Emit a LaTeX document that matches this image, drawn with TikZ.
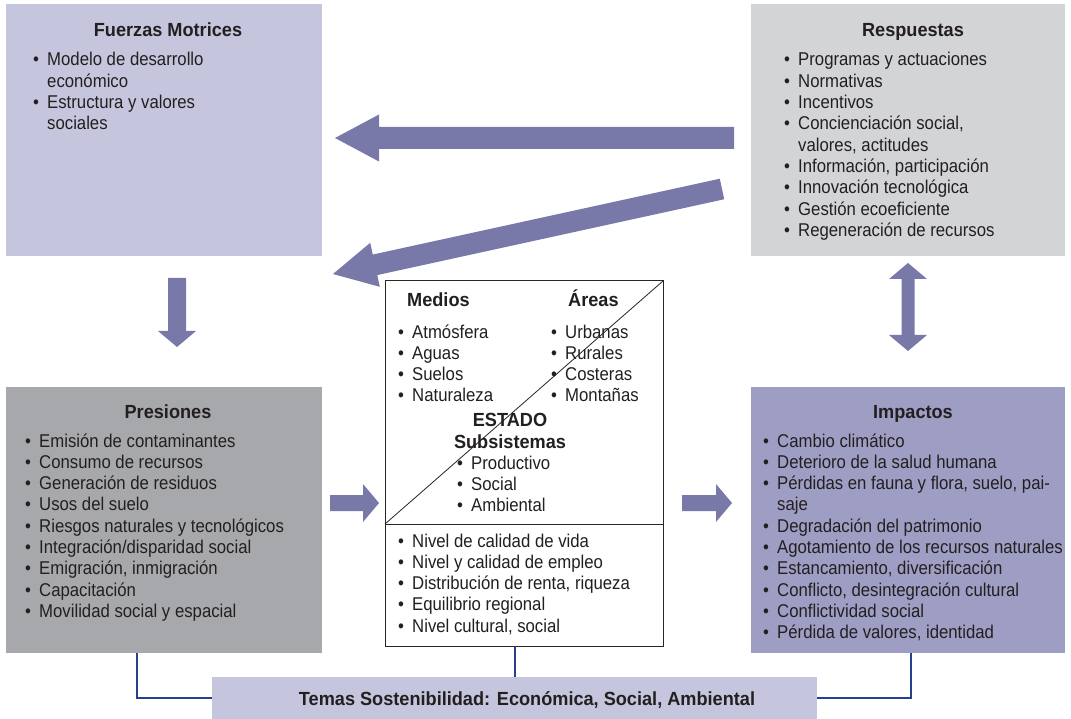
\documentclass[tikz,border=0pt]{standalone}
\usepackage{fontspec}
\setmainfont{Liberation Sans}[FakeStretch=0.905]
\newfontfamily\tfont{Liberation Sans}[FakeStretch=0.955]
\usetikzlibrary{calc}
\definecolor{fuerzac}{HTML}{C5C6DD}
\definecolor{respc}{HTML}{D3D4D6}
\definecolor{presc}{HTML}{A7A8AB}
\definecolor{impc}{HTML}{9E9EC4}
\definecolor{arrc}{HTML}{7979A9}
\definecolor{connc}{HTML}{25418C}
\definecolor{txtc}{HTML}{231F20}
\newcommand{\bul}{\makebox[14pt][l]{•}}
\newcommand{\nobul}{\makebox[14pt]{}}
% tail, tip, half shaft, half head, head length
\newcommand{\fatarrow}[5]{%
  \coordinate (fatH) at ($(#2)!#5!(#1)$);
  \fill[arrc] ($(#1)!#3!90:(#2)$) -- ($(fatH)!#3!90:(#2)$) -- ($(fatH)!#4!90:(#2)$) -- (#2)
    -- ($(fatH)!#4!-90:(#2)$) -- ($(fatH)!#3!-90:(#2)$) -- ($(#1)!#3!-90:(#2)$) -- cycle;}
\newcommand{\dblarrow}[5]{%
  \coordinate (dblA) at ($(#1)!#5!(#2)$);
  \coordinate (dblB) at ($(#2)!#5!(#1)$);
  \fill[arrc] (#1) -- ($(dblA)!#4!90:(#2)$) -- ($(dblA)!#3!90:(#2)$) -- ($(dblB)!#3!90:(#2)$)
    -- ($(dblB)!#4!90:(#2)$) -- (#2) -- ($(dblB)!#4!-90:(#2)$) -- ($(dblB)!#3!-90:(#2)$)
    -- ($(dblA)!#3!-90:(#2)$) -- ($(dblA)!#4!-90:(#2)$) -- cycle;}
\tikzset{
  box/.style={draw=none, inner sep=0pt, outer sep=0pt, anchor=north west},
  itm/.style={anchor=base west, inner sep=0pt, text=txtc, font=\fontsize{18.5}{21}\selectfont},
  ttl/.style={anchor=base, inner sep=0pt, text=txtc, font=\tfont\bfseries\fontsize{19}{21}\selectfont},
  conn/.style={draw=connc, line width=2pt},
}
\begin{document}
\begin{tikzpicture}[x=1pt,y=-1pt]
\useasboundingbox (0,0) rectangle (1071,719);
\fill[white] (0,0) rectangle (1071,719);
% boxes
\node[box, fill=fuerzac, minimum width=316pt, minimum height=252pt] (fm) at (6,4) {};
\node[box, fill=respc, minimum width=314pt, minimum height=252pt] (resp) at (751,4) {};
\node[box, fill=presc, minimum width=316pt, minimum height=266pt] (pres) at (6,387) {};
\node[box, fill=impc, minimum width=314pt, minimum height=266pt] (imp) at (751,387) {};
\node[box, fill=white, draw=black!85, line width=1pt, minimum width=278pt, minimum height=365pt] (estado) at (385,281) {};
\node[box, fill=fuerzac, minimum width=605pt, minimum height=42pt] (bar) at (212,677) {};
% center box lines
\coordinate (dvl) at (385,524);
\coordinate (dvr) at (663,524);
\draw[black!85, line width=1pt] (dvl) -- (dvr);
\draw[black!85, line width=0.8pt] (estado.north east) -- (dvl);
% titles
\node[ttl] (tfm) at (168,37) {Fuerzas Motrices};
\node[ttl] (tresp) at (913,37) {Respuestas};
\node[ttl] (tpres) at (168,418) {Presiones};
\node[ttl] (timp) at (913,418) {Impactos};
\node[ttl, anchor=base west] (tmed) at (407,307) {Medios};
\node[ttl, anchor=base west] (tare) at (568,307) {Áreas};
\node[ttl] (test) at (510,426) {ESTADO};
\node[ttl] (tsub) at (510,448) {Subsistemas};
\node[ttl] (tbar) at (527,705) {Temas Sostenibilidad: Económica, Social, Ambiental};
% items
\foreach \b/\t [count=\i] in {1/Modelo de desarrollo, 0/económico, 1/Estructura y valores, 0/sociales}
  \node[itm] (fm\i) at (33,{66+21.3*(\i-1)}) {\ifnum\b=1 \bul\else\nobul\fi\t};
\foreach \b/\t [count=\i] in {1/Programas y actuaciones, 1/Normativas, 1/Incentivos, 1/{Concienciación social,}, 0/{valores, actitudes}, 1/{Información, participación}, 1/Innovación tecnológica, 1/Gestión ecoeficiente, 1/Regeneración de recursos}
  \node[itm] (re\i) at (784,{66+21.3*(\i-1)}) {\ifnum\b=1 \bul\else\nobul\fi\t};
\foreach \b/\t [count=\i] in {1/Emisión de contaminantes, 1/Consumo de recursos, 1/Generación de residuos, 1/Usos del suelo, 1/Riesgos naturales y tecnológicos, 1/{Integración/disparidad social}, 1/{Emigración, inmigración}, 1/Capacitación, 1/Movilidad social y espacial}
  \node[itm] (pr\i) at (25,{447+21.3*(\i-1)}) {\ifnum\b=1 \bul\else\nobul\fi\t};
\foreach \b/\t [count=\i] in {1/Cambio climático, 1/Deterioro de la salud humana, 1/{Pérdidas en fauna y flora, suelo, pai-}, 0/saje, 1/Degradación del patrimonio, 1/Agotamiento de los recursos naturales, 1/{Estancamiento, diversificación}, 1/{Conflicto, desintegración cultural}, 1/Conflictividad social, 1/{Pérdida de valores, identidad}}
  \node[itm] (im\i) at (763,{447+21.3*(\i-1)}) {\ifnum\b=1 \bul\else\nobul\fi\t};
\foreach \t [count=\i] in {Atmósfera, Aguas, Suelos, Naturaleza}
  \node[itm] (me\i) at (398,{338+21.3*(\i-1)}) {\bul\t};
\foreach \t [count=\i] in {Urbanas, Rurales, Costeras, Montañas}
  \node[itm] (ar\i) at (551,{338+21.3*(\i-1)}) {\bul\t};
\foreach \t [count=\i] in {Productivo, Social, Ambiental}
  \node[itm] (su\i) at (457,{469+21.3*(\i-1)}) {\bul\t};
\foreach \t [count=\i] in {Nivel de calidad de vida, Nivel y calidad de empleo, {Distribución de renta, riqueza}, Equilibrio regional, {Nivel cultural, social}}
  \node[itm] (ni\i) at (398,{547+21.3*(\i-1)}) {\bul\t};
% big arrows
\coordinate (a1t) at (734,138); \coordinate (a1h) at (335,138);
\fatarrow{a1t}{a1h}{11pt}{23.5pt}{44pt}
\coordinate (a2t) at (722,189); \coordinate (a2h) at (333,274);
\fatarrow{a2t}{a2h}{10.5pt}{22.5pt}{43pt}
\coordinate (a3t) at (177,278); \coordinate (a3h) at (177,347);
\fatarrow{a3t}{a3h}{9pt}{19pt}{16pt}
\coordinate (a4t) at (330,503); \coordinate (a4h) at (379,503);
\fatarrow{a4t}{a4h}{8pt}{19pt}{16pt}
\coordinate (a5t) at (682,503); \coordinate (a5h) at (732,503);
\fatarrow{a5t}{a5h}{8pt}{19pt}{16pt}
\coordinate (a6t) at (908,263); \coordinate (a6h) at (908,351);
\dblarrow{a6t}{a6h}{6.5pt}{19pt}{16pt}
% connectors
\draw[conn] ([xshift=131pt]pres.south west) |- (bar.west);
\draw[conn] (bar.north) -- (bar.north |- estado.south);
\draw[conn] ([xshift=160pt]imp.south west) |- (bar.east);
\end{tikzpicture}
\end{document}
